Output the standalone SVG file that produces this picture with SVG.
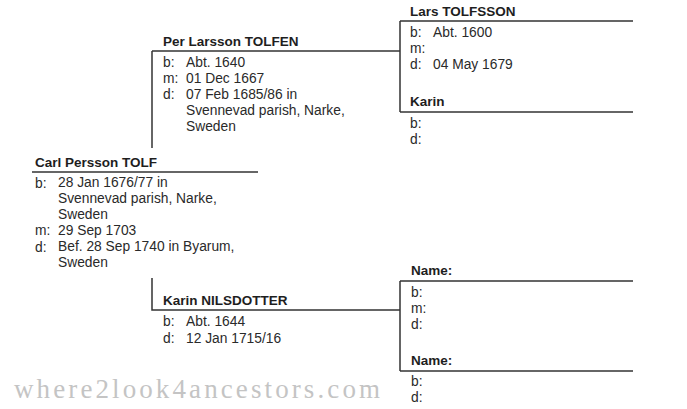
<svg xmlns="http://www.w3.org/2000/svg" width="687" height="409" viewBox="0 0 687 409">
<style>
.nm{font-family:"Liberation Sans",Arial,sans-serif;font-size:13.5px;font-weight:bold;fill:#1e1e1e}
.tx{font-family:"Liberation Sans",Arial,sans-serif;font-size:13.8px;fill:#2a2a2a}
.ln{stroke:#333;stroke-width:1.5;fill:none}
.wm{font-family:"Liberation Serif","DejaVu Serif",serif;font-size:27px;fill:#c4c4c4}
</style>
<rect width="687" height="409" fill="#fff"/>
<g id="connectors">
<path class="ln" d="M258 51H400"/>
<path class="ln" d="M152 51V148"/>
<path class="ln" d="M152 278V310H400"/>
</g>
<g id="per">
<text class="nm" x="163" y="46">Per Larsson TOLFEN</text>
<path class="ln" d="M152 51H258"/>
<text class="tx" x="163" y="67">b:</text><text class="tx" x="186" y="67">Abt. 1640</text>
<text class="tx" x="163" y="83">m:</text><text class="tx" x="186" y="83">01 Dec 1667</text>
<text class="tx" x="163" y="99">d:</text><text class="tx" x="186" y="99">07 Feb 1685/86 in</text>
<text class="tx" x="186" y="115">Svennevad parish, Narke,</text>
<text class="tx" x="186" y="131">Sweden</text>
</g>
<g id="lars">
<text class="nm" x="410" y="16">Lars TOLFSSON</text>
<path class="ln" d="M400 21H633M400 21V112"/>
<text class="tx" x="410" y="37">b:</text><text class="tx" x="433" y="37">Abt. 1600</text>
<text class="tx" x="410" y="53">m:</text>
<text class="tx" x="410" y="69">d:</text><text class="tx" x="433" y="69">04 May 1679</text>
</g>
<g id="karin">
<text class="nm" x="410" y="106">Karin</text>
<path class="ln" d="M400 112H633"/>
<text class="tx" x="410" y="128">b:</text>
<text class="tx" x="410" y="144">d:</text>
</g>
<g id="carl">
<text class="nm" x="35" y="167">Carl Persson TOLF</text>
<path class="ln" d="M32 172H258"/>
<text class="tx" x="35" y="188">b:</text><text class="tx" x="58" y="187">28 Jan 1676/77 in</text>
<text class="tx" x="58" y="203">Svennevad parish, Narke,</text>
<text class="tx" x="58" y="219">Sweden</text>
<text class="tx" x="35" y="235">m:</text><text class="tx" x="58" y="235">29 Sep 1703</text>
<text class="tx" x="35" y="252">d:</text><text class="tx" x="58" y="251">Bef. 28 Sep 1740 in Byarum,</text>
<text class="tx" x="58" y="267">Sweden</text>
</g>
<g id="karin-nilsdotter">
<text class="nm" x="163" y="305">Karin NILSDOTTER</text>
<text class="tx" x="163" y="326">b:</text><text class="tx" x="186" y="326">Abt. 1644</text>
<text class="tx" x="163" y="343">d:</text><text class="tx" x="186" y="343">12 Jan 1715/16</text>
</g>
<g id="unknown-father">
<text class="nm" x="411" y="275">Name:</text>
<path class="ln" d="M400 281H633M400 281V371"/>
<text class="tx" x="411" y="297">b:</text>
<text class="tx" x="411" y="313">m:</text>
<text class="tx" x="411" y="329">d:</text>
</g>
<g id="unknown-mother">
<text class="nm" x="411" y="365">Name:</text>
<path class="ln" d="M400 371H633"/>
<text class="tx" x="411" y="386">b:</text>
<text class="tx" x="411" y="402">d:</text>
</g>
<text class="wm" x="14" y="398" textLength="366" lengthAdjust="spacing">where2look4ancestors.com</text>
</svg>
